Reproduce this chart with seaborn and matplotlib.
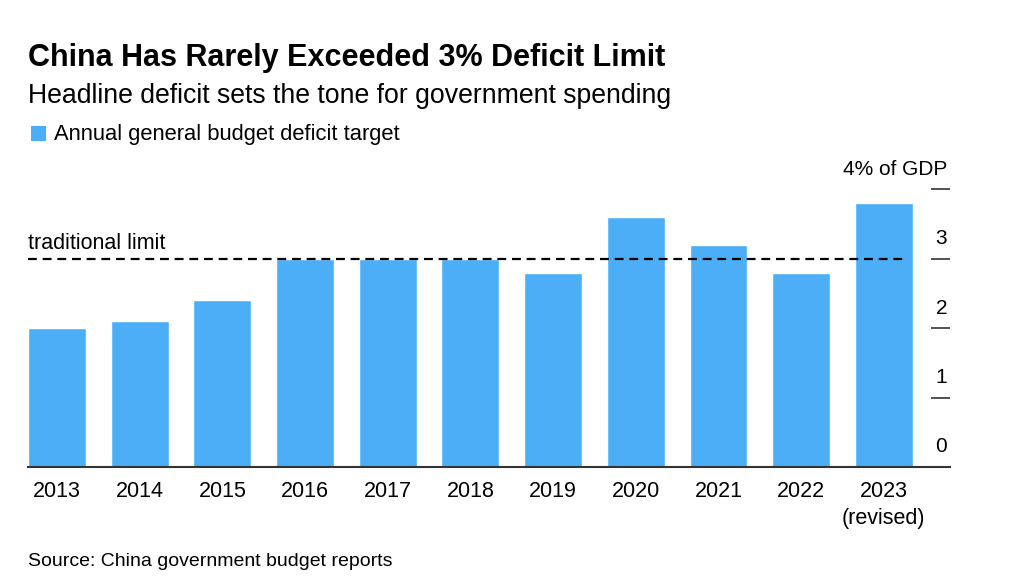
import matplotlib
matplotlib.use("Agg")
import matplotlib.pyplot as plt
import matplotlib.transforms as mtransforms
import seaborn as sns
import pandas as pd

years = ["2013", "2014", "2015", "2016", "2017", "2018", "2019", "2020", "2021", "2022", "2023\n(revised)"]
deficit = [2.0, 2.1, 2.4, 3.0, 3.0, 3.0, 2.8, 3.6, 3.2, 2.8, 3.8]
ytick_vals = [0, 1, 2, 3, 4]
ytick_labels = ["0", "1", "2", "3", "4% of GDP"]
limit_value = 3.0

sns.set_theme(style="white")
plt.rcParams["font.family"] = ["Liberation Sans", "DejaVu Sans"]

BAR = "#4daef8"
W, H = 1026, 586
fig = plt.figure(figsize=(W / 100, H / 100), dpi=100)
ax = fig.add_axes([28 / W, (H - 467) / H, (950 - 28) / W, (467 - 189.4) / H])

df = pd.DataFrame({"year": years, "deficit": deficit})
sns.barplot(data=df, x="year", y="deficit", color=BAR, saturation=1, width=0.70, ax=ax, zorder=2)

ax.set_xlim(-0.35, 10.8)
ax.set_ylim(0, 4)
ax.set_xlabel("")
ax.set_ylabel("")

for s in ["top", "left", "right"]:
    ax.spines[s].set_visible(False)
ax.spines["bottom"].set_color("#333333")
ax.spines["bottom"].set_linewidth(1.5)

# dashed traditional limit
ax.axhline(limit_value, xmin=0, xmax=(908 - 28) / (950 - 28), color="black",
           linestyle=(0, (4, 2.6)), linewidth=1.6, zorder=3)
ax.text(0, limit_value, "traditional limit",
        transform=mtransforms.blended_transform_factory(ax.transAxes, ax.transData)
        + mtransforms.ScaledTranslation(0, 5 / 100, fig.dpi_scale_trans),
        ha="left", va="bottom", fontsize=15.5, color="black")

# right axis ticks
ax.yaxis.tick_right()
ax.set_yticks(ytick_vals)
ax.set_yticklabels(ytick_labels)
ax.tick_params(axis="y", direction="in", length=14, width=1.2, color="#333333",
               labelsize=15, pad=-2, labelcolor="black", right=True, left=False)
offset = mtransforms.ScaledTranslation(0, 20 / 100, fig.dpi_scale_trans)
for lab in ax.get_yticklabels():
    lab.set_horizontalalignment("right")
    lab.set_verticalalignment("center")
    lab.set_transform(lab.get_transform() + offset)

ax.tick_params(axis="x", length=0, pad=10, labelsize=15.5, labelcolor="black")
for lab in ax.get_xticklabels():
    lab.set_linespacing(1.4)

# titles
fig.text(28 / W, (H - 66) / H, "China Has Rarely Exceeded 3% Deficit Limit", fontsize=22,
         fontweight="bold", ha="left", va="baseline", color="black")
fig.text(28 / W, (H - 103) / H, "Headline deficit sets the tone for government spending", fontsize=19.2,
         ha="left", va="baseline", color="black")
fig.patches.append(plt.Rectangle((31 / W, (H - 141) / H), 15 / W, 15 / H, transform=fig.transFigure,
                                 facecolor=BAR, edgecolor="none"))
fig.text(54 / W, (H - 140) / H, "Annual general budget deficit target", fontsize=15.8,
         ha="left", va="baseline", color="black")
fig.text(28 / W, (H - 566) / H, "Source: China government budget reports", fontsize=14,
         ha="left", va="baseline", color="black")

fig.savefig("out.png", dpi=100, facecolor="white")
